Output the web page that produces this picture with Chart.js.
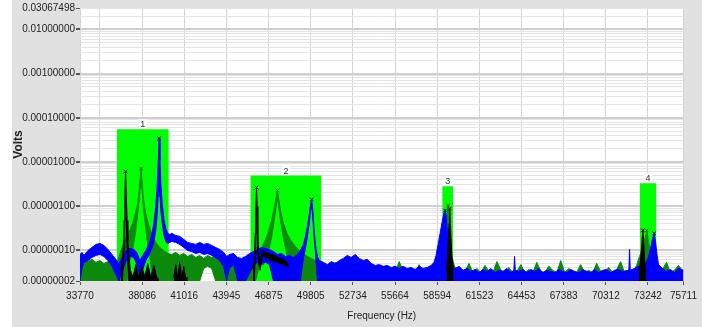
<!DOCTYPE html>
<html><head><meta charset="utf-8">
<script src="https://cdn.jsdelivr.net/npm/chart.js@4.4.1/dist/chart.umd.min.js"></script>
<style>html,body{margin:0;padding:0;background:#fff}#wrap{width:702px;height:327px;position:relative}</style>
</head><body><div id="wrap"><canvas id="c"></canvas></div>
<script>
const xTickValues = [33770,35156,38086,41016,43945,46875,49805,52734,55664,58594,61523,64453,67383,70312,73242,75711];
const xTickLabels = ['33770','','38086','41016','43945','46875','49805','52734','55664','58594','61523','64453','67383','70312','73242','75711'];
const yMin = 0.00000002, yMax = 0.03067498;
const yLabeledTicks = [0.00000002,0.0000001,0.000001,0.00001,0.0001,0.001,0.01,0.03067498];

const regionNames = ['1','2','3','4'];
const regionStart = [36336,45608,58943,72674];
const regionEnd = [39942,50552,59706,73832];
const regionTop = [5.5e-5,4.9e-6,2.8e-6,3.3e-6];

const blueHz = [33770,33909,34047,34325,34602,34879,35156,35434,35711,35988,
36266,36473,36681,36959,37236,37513,37721,37929,38137,38345,
38553,38761,38900,39038,39142,39212,39267,39329,39385,39489,
39593,39732,39870,40009,40147,40425,40702,40979,41257,41534,
41811,42088,42366,42643,42920,43198,43475,43752,43960,44168,
44445,44723,45000,45277,45554,45832,46109,46386,46664,46941,
47218,47495,47773,48050,48327,48604,48882,49090,49298,49436,
49575,49714,49804,49873,49943,50026,50130,50268,50407,50684,
50961,51239,51516,51793,52070,52348,52625,52902,53180,53457,
53734,54011,54289,54566,54843,55121,55398,55675,55952,56230,
56507,56784,57062,57339,57616,57893,58171,58379,58517,58656,
58795,58933,59037,59141,59211,59280,59349,59419,59523,59627,
59834,60112,60389,60666,60943,61221,61498,61775,62052,62330,
62607,62884,63161,63439,63716,63924,63972,64021,64271,64548,
64825,65102,65380,65657,65934,66211,66489,66766,67043,67321,
67598,67875,68152,68430,68707,68984,69261,69539,69816,70093,
70371,70648,70925,71202,71480,71916,71965,72013,72311,72589,
72866,73143,73282,73421,73559,73677,73767,73871,73975,74252,
74530,74807,75084,75362,75711];
const blueHi = [8.0e-8,8.9e-8,7.6e-8,9.8e-8,1.15e-7,1.35e-7,1.42e-7,1.28e-7,1.04e-7,8.0e-8,
6.2e-8,4.7e-8,6.8e-8,9.8e-8,1.09e-7,1.04e-7,8.9e-8,5.8e-8,7.6e-8,9.8e-8,
1.35e-7,2.27e-7,4.0e-7,9.8e-7,3.26e-6,1.08e-5,3.41e-5,1.08e-5,3.26e-6,1.15e-6,
5.2e-7,3.1e-7,2.4e-7,2.27e-7,2.4e-7,2.15e-7,2.05e-7,1.75e-7,1.5e-7,1.42e-7,
1.35e-7,1.5e-7,1.35e-7,1.42e-7,1.28e-7,1.15e-7,1.04e-7,8.9e-8,7.2e-8,8.0e-8,
8.4e-8,6.8e-8,6.5e-8,7.2e-8,8.4e-8,9.3e-8,1.04e-7,1.15e-7,1.09e-7,1.04e-7,
9.3e-8,8.0e-8,8.4e-8,7.2e-8,7.6e-8,6.8e-8,8.0e-8,9.8e-8,1.35e-7,2.05e-7,
3.45e-7,6.8e-7,1.15e-6,1.41e-6,8.8e-7,3.45e-7,1.35e-7,7.2e-8,5.8e-8,5.3e-8,
4.7e-8,5.5e-8,5.0e-8,5.8e-8,6.5e-8,7.6e-8,6.8e-8,8.0e-8,6.5e-8,5.8e-8,
6.2e-8,5.0e-8,4.5e-8,4.7e-8,4.3e-8,4.5e-8,4.05e-8,4.3e-8,3.85e-8,4.3e-8,
3.85e-8,4.05e-8,3.65e-8,4.3e-8,3.85e-8,4.05e-8,4.5e-8,5.3e-8,7.6e-8,1.35e-7,
2.4e-7,4.25e-7,6.45e-7,7.95e-7,6.45e-7,3.45e-7,1.66e-7,8.9e-8,5.5e-8,4.3e-8,
3.85e-8,4.3e-8,3.5e-8,3.85e-8,3.3e-8,3.65e-8,3.1e-8,3.65e-8,3.3e-8,3.85e-8,
3.1e-8,3.5e-8,3.3e-8,3.85e-8,3.1e-8,3.5e-8,7.2e-8,3.5e-8,3.3e-8,3.65e-8,
3.1e-8,3.65e-8,3.3e-8,3.85e-8,3.1e-8,3.5e-8,3.3e-8,3.1e-8,3.65e-8,3.3e-8,
3.1e-8,3.65e-8,3.3e-8,3.1e-8,3.65e-8,3.3e-8,3.1e-8,3.65e-8,3.1e-8,3.5e-8,
3.65e-8,3.1e-8,3.5e-8,3.65e-8,3.3e-8,3.5e-8,1.04e-7,3.5e-8,3.85e-8,4.3e-8,
4.7e-8,5.3e-8,7.2e-8,1.09e-7,1.84e-7,2.4e-7,1.58e-7,8.0e-8,4.7e-8,3.85e-8,
3.3e-8,3.65e-8,3.1e-8,3.85e-8,3.5e-8];
const blueLo = [2e-8,3.85e-8,5.3e-8,5.8e-8,6.8e-8,7.6e-8,8.0e-8,7.2e-8,5.8e-8,4.3e-8,
2.8e-8,2e-8,3.1e-8,5.5e-8,7.2e-8,6.8e-8,4.7e-8,2.4e-8,3.65e-8,5.8e-8,
7.6e-8,1.09e-7,1.5e-7,2.8e-7,6.8e-7,1.93e-6,7.1e-6,1.65e-6,7.95e-7,4.0e-7,
2.27e-7,1.58e-7,1.42e-7,1.5e-7,1.58e-7,1.5e-7,1.35e-7,1.15e-7,9.8e-8,9.3e-8,
8.4e-8,8.9e-8,8.0e-8,8.4e-8,7.6e-8,6.8e-8,5.8e-8,4.3e-8,2e-8,3.85e-8,
4.7e-8,2e-8,2e-8,2e-8,3.0e-8,4.5e-8,5.3e-8,5.0e-8,5.3e-8,4.7e-8,
2e-8,2e-8,2e-8,2e-8,2e-8,2e-8,2e-8,2e-8,6.5e-8,1.09e-7,
2.05e-7,4.25e-7,7.95e-7,9.8e-7,5.8e-7,2.27e-7,8.9e-8,2e-8,2e-8,2e-8,
2e-8,2e-8,2e-8,2e-8,2e-8,2e-8,2e-8,2e-8,2e-8,2e-8,
2e-8,2e-8,2e-8,2e-8,2e-8,2e-8,2e-8,2e-8,2e-8,2e-8,
2e-8,2e-8,2e-8,2e-8,2e-8,2e-8,2e-8,2e-8,2e-8,2e-8,
2e-8,2e-8,2e-8,2e-8,2e-8,2e-8,2e-8,2e-8,2e-8,2e-8,
2e-8,2e-8,2e-8,2e-8,2e-8,2e-8,2e-8,2e-8,2e-8,2e-8,
2e-8,2e-8,2e-8,2e-8,2e-8,2e-8,2e-8,2e-8,2e-8,2e-8,
2e-8,2e-8,2e-8,2e-8,2e-8,2e-8,2e-8,2e-8,2e-8,2e-8,
2e-8,2e-8,2e-8,2e-8,2e-8,2e-8,2e-8,2e-8,2e-8,2e-8,
2e-8,2e-8,2e-8,2e-8,2e-8,2e-8,2e-8,2e-8,2e-8,2e-8,
2e-8,2e-8,2e-8,2e-8,2e-8,2e-8,2e-8,2e-8,2e-8,2e-8,
2e-8,2e-8,2e-8,2e-8,2e-8];

const greenHz = [33770,34047,34325,34602,34879,35156,35434,35711,35988,36196,
36404,36612,36820,37028,37236,37444,37652,37791,37895,37964,
38019,38082,38151,38276,38414,38622,38830,39038,39316,39593,
39870,40147,40425,40702,40979,41257,41534,41811,42088,42366,
42643,42920,43198,43475,43752,44030,44307,44584,44861,45139,
45416,45693,45970,46248,46525,46802,47079,47287,47412,47495,
47578,47703,47911,48189,48466,48743,49020,49298,49575,49852,
50130,50407,50684,50961,51239,51516,51793,52070,52348,52625,
52902,53180,53457,53734,54011,54289,54566,54843,55121,55398,
55675,55952,56230,56507,56784,57062,57339,57616,57893,58171,
58448,58725,59002,59141,59245,59349,59419,59488,59592,59765,
59973,60250,60527,60805,61082,61359,61637,61914,62191,62468,
62746,63023,63300,63577,63855,64132,64409,64687,64964,65241,
65518,65796,66073,66350,66627,66905,67182,67459,67736,68014,
68291,68568,68846,69123,69400,69677,69955,70232,70509,70787,
71064,71341,71618,71896,72173,72450,72658,72866,73005,73109,
73164,73226,73351,73490,73698,73975,74252,74530,74807,75084,
75362,75711];
const greenHi = [5.8e-8,6.5e-8,5.5e-8,6.2e-8,5.3e-8,5.8e-8,5.0e-8,5.5e-8,4.5e-8,3.5e-8,
5.8e-8,9.8e-8,1.42e-7,2.05e-7,2.8e-7,4.25e-7,7.5e-7,1.27e-6,2.5e-6,4.7e-6,
7.1e-6,3.8e-6,1.83e-6,8.8e-7,5.2e-7,3.1e-7,2.05e-7,1.5e-7,1.15e-7,9.8e-8,
8.4e-8,8.0e-8,8.9e-8,7.6e-8,8.4e-8,7.2e-8,8.0e-8,6.8e-8,7.6e-8,6.5e-8,
7.6e-8,6.8e-8,7.2e-8,6.5e-8,5.8e-8,5.0e-8,5.5e-8,4.7e-8,5.3e-8,4.7e-8,
5.5e-8,5.8e-8,6.5e-8,8.9e-8,1.35e-7,2.27e-7,4.7e-7,9.8e-7,1.65e-6,2.26e-6,
1.49e-6,7.95e-7,4.0e-7,2.27e-7,1.58e-7,1.21e-7,9.8e-8,8.4e-8,7.2e-8,6.5e-8,
5.8e-8,5.3e-8,4.7e-8,3.3e-8,3.85e-8,5.3e-8,3.1e-8,3.5e-8,5.8e-8,3.1e-8,
3.65e-8,4.5e-8,3.1e-8,3.3e-8,5.0e-8,3.1e-8,3.85e-8,3.1e-8,4.3e-8,3.3e-8,
3.1e-8,5.5e-8,3.5e-8,3.1e-8,4.05e-8,3.1e-8,4.7e-8,3.3e-8,3.1e-8,3.85e-8,
5.8e-8,7.2e-8,1.09e-7,1.84e-7,4.7e-7,1.03e-6,5.2e-7,1.84e-7,8.0e-8,4.7e-8,
3.1e-8,3.65e-8,3.3e-8,5.0e-8,3.1e-8,3.85e-8,3.1e-8,4.5e-8,3.3e-8,3.1e-8,
5.5e-8,3.5e-8,3.1e-8,4.05e-8,3.1e-8,3.3e-8,4.7e-8,3.1e-8,3.65e-8,3.1e-8,
5.3e-8,3.3e-8,3.1e-8,4.3e-8,3.5e-8,3.1e-8,5.8e-8,3.1e-8,3.85e-8,3.3e-8,
3.1e-8,4.7e-8,3.1e-8,3.5e-8,3.1e-8,5.0e-8,3.3e-8,3.1e-8,4.05e-8,3.1e-8,
3.65e-8,5.5e-8,3.1e-8,3.5e-8,3.1e-8,4.5e-8,7.2e-8,1.09e-7,1.66e-7,2.27e-7,
2.8e-7,2.05e-7,1.09e-7,5.8e-8,4.7e-8,3.1e-8,3.65e-8,5.3e-8,3.1e-8,3.5e-8,
4.5e-8,3.3e-8];
const greenLo = [2e-8,2e-8,2e-8,2e-8,2e-8,2e-8,2e-8,2e-8,2e-8,2e-8,
2e-8,2e-8,2e-8,2e-8,5.8e-8,1.09e-7,2.8e-7,7.2e-7,1.49e-6,2.78e-6,
4.2e-6,2.26e-6,1.15e-6,4.7e-7,1.84e-7,7.2e-8,2e-8,2e-8,2e-8,2e-8,
2e-8,2e-8,2e-8,2e-8,2e-8,2e-8,2e-8,2e-8,2e-8,3.85e-8,
4.3e-8,3.85e-8,2e-8,2e-8,2e-8,2e-8,2e-8,2e-8,2e-8,2e-8,
2e-8,2e-8,2e-8,4.7e-8,4.7e-8,8.0e-8,1.84e-7,5.2e-7,1.03e-6,1.49e-6,
9.8e-7,4.7e-7,1.84e-7,7.2e-8,2e-8,2e-8,2e-8,2e-8,2e-8,2e-8,
2e-8,2e-8,2e-8,2e-8,2e-8,2e-8,2e-8,2e-8,2e-8,2e-8,
2e-8,2e-8,2e-8,2e-8,2e-8,2e-8,2e-8,2e-8,2e-8,2e-8,
2e-8,2e-8,2e-8,2e-8,2e-8,2e-8,2e-8,2e-8,2e-8,2e-8,
2e-8,2e-8,2e-8,2e-8,2e-8,2e-8,2e-8,2e-8,2e-8,2e-8,
2e-8,2e-8,2e-8,2e-8,2e-8,2e-8,2e-8,2e-8,2e-8,2e-8,
2e-8,2e-8,2e-8,2e-8,2e-8,2e-8,2e-8,2e-8,2e-8,2e-8,
2e-8,2e-8,2e-8,2e-8,2e-8,2e-8,2e-8,2e-8,2e-8,2e-8,
2e-8,2e-8,2e-8,2e-8,2e-8,2e-8,2e-8,2e-8,2e-8,2e-8,
2e-8,2e-8,2e-8,2e-8,2e-8,2e-8,2e-8,2e-8,2e-8,2e-8,
2e-8,2e-8,2e-8,2e-8,2e-8,2e-8,2e-8,2e-8,2e-8,2e-8,
2e-8,2e-8];

const blackHz = [36612,36716,36785,36841,36889,36938,36986,37042,37097,37167,37271,37444,37652,37860,38068,38276,38484,38692,38900,39108,39246,
39800,
40286,40425,40563,40702,40841,40979,41118,41257,
43000,
45797,45887,45950,45998,46040,46082,46130,46193,46283,46456,46664,46872,47079,47287,47495,47703,47911,48119,48258,
53000,
59245,59349,59419,59467,59516,59571,59627,59731,
66000,
72624,72728,72818,72887,72950,73019,73109];
const blackHi = [3.5e-8,5.8e-8,1.42e-7,4.7e-7,1.93e-6,6.1e-6,1.93e-6,4.7e-7,1.66e-7,8.0e-8,3.5e-8,2.4e-8,4.7e-8,2.4e-8,4.27e-8,2.5e-8,5.0e-8,2.4e-8,4.5e-8,2.4e-8,2.2e-8,
null,
2.4e-8,4.7e-8,2.4e-8,5.3e-8,2.4e-8,4.27e-8,2.3e-8,2.4e-8,
null,
3.85e-8,7.2e-8,2.4e-7,9.8e-7,2.64e-6,9.8e-7,2.4e-7,8.4e-8,5.8e-8,9.8e-8,8.9e-8,8.4e-8,8.0e-8,7.6e-8,6.8e-8,6.5e-8,6.2e-8,5.5e-8,4.7e-8,
null,
3.5e-8,1.09e-7,4.0e-7,8.8e-7,4.0e-7,1.42e-7,6.5e-8,3.85e-8,
null,
3.1e-8,5.8e-8,1.42e-7,2.8e-7,1.42e-7,5.8e-8,3.1e-8];
const blackLo = [2e-8,2e-8,5.8e-8,1.09e-7,4.0e-7,1.49e-6,4.0e-7,1.09e-7,5.8e-8,2e-8,2e-8,2e-8,2e-8,2e-8,2e-8,2e-8,2e-8,2e-8,2e-8,2e-8,2e-8,
null,
2e-8,2e-8,2e-8,2e-8,2e-8,2e-8,2e-8,2e-8,
null,
2e-8,2e-8,8.4e-8,2.4e-7,8.8e-7,2.4e-7,8.4e-8,5.0e-8,3.5e-8,7.6e-8,6.8e-8,6.5e-8,5.8e-8,5.5e-8,5.3e-8,5.0e-8,4.7e-8,4.3e-8,4.05e-8,
null,
2e-8,2e-8,2e-8,2e-8,2e-8,2e-8,2e-8,2e-8,
null,
2e-8,2e-8,2e-8,2e-8,2e-8,2e-8,2e-8];

const FONT = "'Liberation Sans',Arial,sans-serif";
const COLORS = {black:'#000000', green:'#0b8a0b', blue:'#0000ff', region:'#00ff00'};

const yGridTicks = [];
for (let e = -8; e <= -2; e++) {
  for (let m = 1; m <= 9; m++) {
    const v = m * Math.pow(10, e);
    if (v >= yMin * 0.999999 && v < yMax * 0.999) yGridTicks.push(v);
  }
}
yGridTicks.push(yMax);
const isLabeledY = v => yLabeledTicks.some(t => Math.abs(t - v) / t < 1e-6);
const isDecade = v => { const l = Math.log10(v); return Math.abs(l - Math.round(l)) < 1e-6; };

const pts = (hz, vals) => hz.map((x, i) => ({x, y: vals[i]}));

const datasets = [];
regionStart.forEach((s, i) => {
  datasets.push({data: [{x: s, y: yMin}, {x: s, y: regionTop[i]}, {x: regionEnd[i], y: regionTop[i]}, {x: regionEnd[i], y: yMin}],
    fill: 'start', backgroundColor: COLORS.region, borderColor: COLORS.region, borderWidth: 0, pointRadius: 0, order: 10});
});
function addBand(hz, hi, lo, color, order) {
  const loIndex = datasets.length + 1;
  datasets.push({data: pts(hz, hi), borderColor: color, backgroundColor: color, borderWidth: 1, pointRadius: 0, fill: loIndex, order});
  datasets.push({data: pts(hz, lo), borderColor: color, backgroundColor: color, borderWidth: 1, pointRadius: 0, fill: false, order});
}
addBand(blackHz, blackHi, blackLo, COLORS.black, 1);
addBand(blueHz, blueHi, blueLo, COLORS.blue, 2);
addBand(greenHz, greenHi, greenLo, COLORS.green, 3);

function peaks(hz, hi) {
  const out = [];
  regionStart.forEach((s, r) => {
    let best = -1;
    for (let i = 0; i < hz.length; i++) {
      if (hi[i] == null || hz[i] < s || hz[i] > regionEnd[r]) continue;
      if (best < 0 || hi[i] > hi[best]) best = i;
    }
    if (best >= 0) out.push({x: hz[best], y: hi[best]});
  });
  return out;
}
[[blackHz, blackHi, '#000000'], [greenHz, greenHi, '#2f5f2f'], [blueHz, blueHi, '#00008c']].forEach(([hz, hi, c]) => {
  datasets.push({data: peaks(hz, hi), showLine: false, pointStyle: 'crossRot', pointRadius: 2.5, borderColor: c, borderWidth: 1, backgroundColor: c, order: 0});
});

const bgPlugin = {id: 'bg', beforeDraw(chart) {
  const {ctx, chartArea: a, width, height} = chart;
  ctx.save();
  ctx.fillStyle = '#ffffff'; ctx.fillRect(0, 0, width, height);
  ctx.fillStyle = '#e1e1e1'; ctx.fillRect(12, 0, width - 12, height);
  ctx.fillStyle = '#ffffff'; ctx.fillRect(a.left, a.top, a.right - a.left, a.bottom - a.top);
  ctx.restore();
}};
const regionLabelPlugin = {id: 'regionLabels', afterDatasetsDraw(chart) {
  const {ctx, scales: {x, y}} = chart;
  ctx.save();
  ctx.font = "9px 'Liberation Sans',Arial,sans-serif";
  ctx.textAlign = 'center'; ctx.textBaseline = 'bottom';
  regionNames.forEach((n, i) => {
    const cx = (x.getPixelForValue(regionStart[i]) + x.getPixelForValue(regionEnd[i])) / 2;
    const ty = y.getPixelForValue(regionTop[i]);
    const w = ctx.measureText(n).width + 4;
    ctx.fillStyle = '#fbfbfb'; ctx.fillRect(cx - w / 2, ty - 10, w, 9.5);
    ctx.fillStyle = '#333'; ctx.fillText(n, cx, ty);
  });
  ctx.restore();
}};

new Chart(document.getElementById('c'), {
  type: 'line',
  data: {datasets},
  options: {
    responsive: true, maintainAspectRatio: false, animation: false, devicePixelRatio: 1,
    layout: {padding: {left: 0, right: 17, top: 8, bottom: 0}},
    plugins: {legend: {display: false}, tooltip: {enabled: false}},
    elements: {line: {tension: 0}},
    scales: {
      x: {type: 'linear', min: 33770, max: 75711,
        afterBuildTicks: s => { s.ticks = xTickValues.map(v => ({value: v})); },
        afterFit: s => { s.height = 46; },
        ticks: {autoSkip: false, maxRotation: 0, padding: 5, color: '#222', font: {family: FONT, size: 10},
          callback: (v, i) => xTickLabels[i]},
        grid: {color: '#d4d4d4', lineWidth: 1, tickLength: 4,
          tickColor: c => (xTickLabels[c.index] ? '#555' : 'rgba(0,0,0,0)')},
        border: {display: false},
        title: {display: true, text: 'Frequency (Hz)', color: '#222', font: {family: FONT, size: 10}, padding: {top: 0, bottom: 5}}
      },
      y: {type: 'logarithmic', min: yMin, max: yMax,
        afterBuildTicks: s => { s.ticks = yGridTicks.map(v => ({value: v})); },
        afterFit: s => { s.width = 80; },
        ticks: {autoSkip: false, padding: 1, color: '#222', font: {family: FONT, size: 10},
          callback: v => (isLabeledY(v) ? v.toFixed(8) : '')},
        grid: {tickLength: 4,
          color: c => (c.tick && isDecade(c.tick.value) ? '#cfcfcf' : '#e4e4e4'),
          lineWidth: c => (c.tick && isDecade(c.tick.value) ? 2 : 1),
          tickColor: c => (c.tick && isLabeledY(c.tick.value) ? '#555' : 'rgba(0,0,0,0)')},
        border: {display: false},
        title: {display: true, text: 'Volts', color: '#222', font: {family: FONT, size: 12, weight: 'bold'}, padding: {top: 11, bottom: 0}}
      }
    }
  },
  plugins: [bgPlugin, regionLabelPlugin]
});
</script>
</body></html>
